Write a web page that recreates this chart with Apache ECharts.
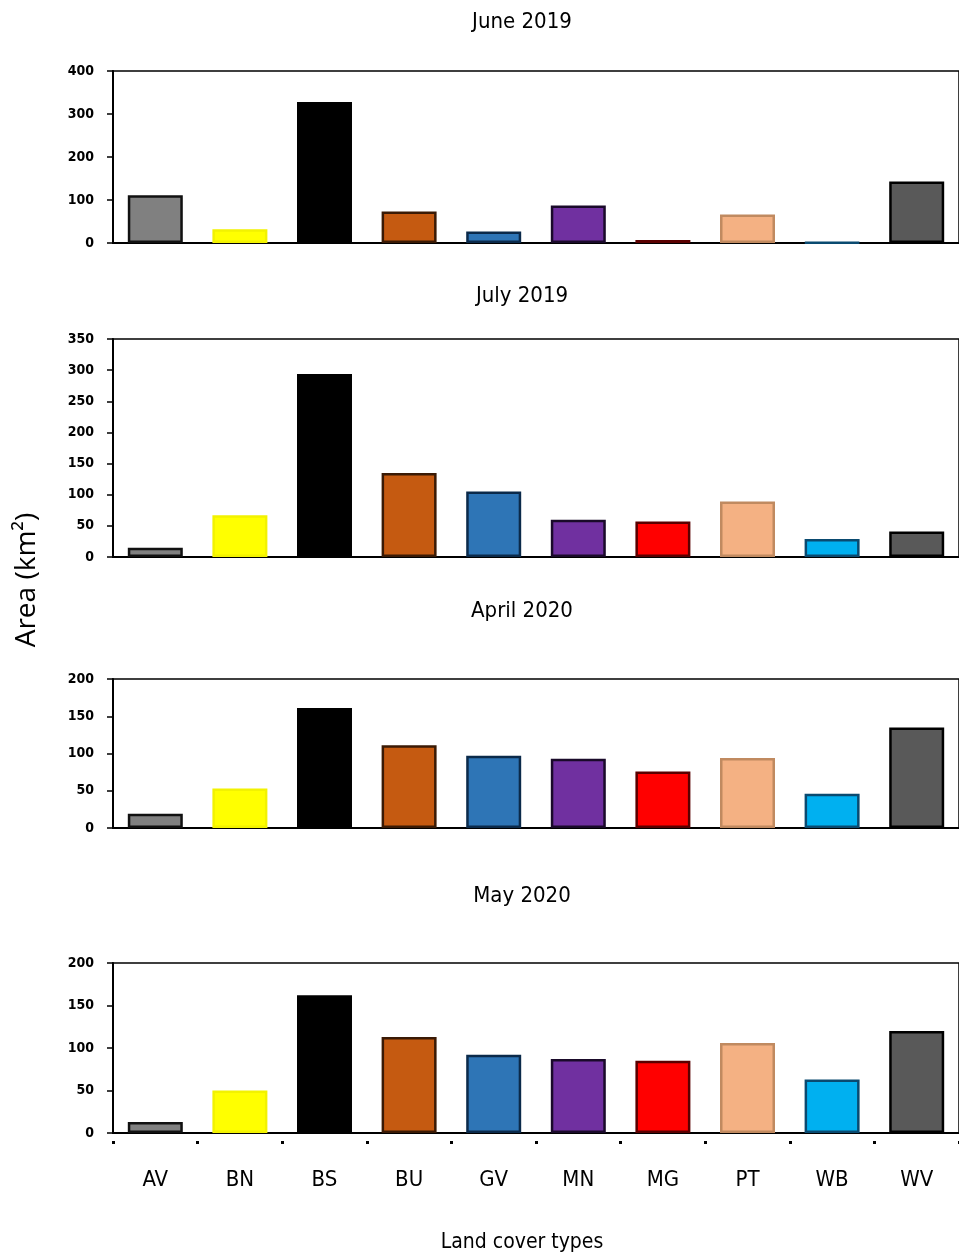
<!DOCTYPE html>
<html>
<head>
<meta charset="utf-8">
<script src="https://cdn.jsdelivr.net/npm/echarts@6/dist/echarts.min.js"></script>
<style>
html,body{margin:0;padding:0;background:#fff;}
#chart{width:959px;height:1260px;}
</style>
</head>
<body>
<div id="chart"></div>
<script>
const categories = ['AV','BN','BS','BU','GV','MN','MG','PT','WB','WV'];
const june2019 = [111, 32, 328, 73, 27, 87, 7, 66, 1, 143];
const july2019 = [15, 67, 294, 135, 105, 60, 57, 89, 29, 41];
const april2020 = [19, 53, 161, 111, 97, 93, 76, 94, 46, 135];
const may2020 = [13, 50, 162, 113, 92, 87, 85, 106, 63, 120];
const panelTitles = ['June 2019', 'July 2019', 'April 2020', 'May 2020'];
const yMax = [400, 350, 200, 200];
const yStep = [100, 50, 50, 50];
const fillColors = ['#808080','#FFFF00','#000000','#C55A11','#2E75B6','#7030A0','#FF0000','#F4B183','#00B0F0','#595959'];
const edgeColors = ['#111111','#F2F200','#000000','#3a1a05','#0b2a4a','#1a0a2a','#5a0000','#c08a60','#0a4a70','#000000'];
const xTitle = 'Land cover types';
const yTitle = 'Area (km²)';

const panels = [june2019, july2019, april2020, may2020];
const layout = [
  {top: 71, height: 172, titleY: 22},
  {top: 339, height: 218, titleY: 296},
  {top: 679, height: 149, titleY: 611},
  {top: 963, height: 170, titleY: 896}
];
const FONT = "'DejaVu Sans Condensed','Liberation Sans Narrow',sans-serif";

const chart = echarts.init(document.getElementById('chart'), null, {renderer: 'canvas'});

const grid = [], xAxis = [], yAxis = [], series = [], graphic = [];
panels.forEach((vals, i) => {
  const L = layout[i];
  const last = i === panels.length - 1;
  grid.push({left: 113, top: L.top, width: 849, height: L.height, show: true,
    borderColor: '#000', borderWidth: 1.5, backgroundColor: 'transparent'});
  xAxis.push({type: 'category', gridIndex: i, data: categories,
    axisLine: {show: true, lineStyle: {color: '#000', width: 2}},
    axisTick: {show: false},
    axisLabel: {show: last, margin: 36, color: '#000', fontSize: 22, fontFamily: FONT},
    splitLine: {show: false}});
  yAxis.push({type: 'value', gridIndex: i, min: 0, max: yMax[i], interval: yStep[i],
    axisLine: {show: true, lineStyle: {color: '#000', width: 2}},
    axisTick: {show: true, length: 6, lineStyle: {color: '#000', width: 1.5}},
    axisLabel: {color: '#000', fontSize: 14, fontWeight: 'bold', fontFamily: "'DejaVu Sans Condensed','DejaVu Sans',sans-serif", margin: 19},
    splitLine: {show: false}});
  series.push({type: 'bar', xAxisIndex: i, yAxisIndex: i, barCategoryGap: '35%',
    data: vals.map((v, k) => ({value: v, itemStyle: {color: fillColors[k], borderColor: edgeColors[k], borderWidth: 2.5}})),
    animation: false});
  graphic.push({type: 'text', x: 522, y: L.titleY,
    style: {text: panelTitles[i], fill: '#000', font: "22px " + FONT, textAlign: 'center', textVerticalAlign: 'middle'}});
});
// detached tick dots under the bottom panel's category axis
xAxis.push({type: 'category', gridIndex: 3, data: categories, position: 'bottom', offset: 8,
  axisLine: {show: false},
  axisTick: {show: true, length: 3, lineStyle: {color: '#000', width: 3}},
  axisLabel: {show: false}, splitLine: {show: false}});

graphic.push({type: 'text', x: 522, y: 1243,
  style: {text: xTitle, fill: '#000', font: "21px " + FONT, textAlign: 'center', textVerticalAlign: 'middle'}});
graphic.push({type: 'text', x: 27, y: 580, rotation: Math.PI / 2,
  style: {text: yTitle, fill: '#000', font: "28px 'Open Sans','Noto Sans',sans-serif", textAlign: 'center', textVerticalAlign: 'middle'}});

chart.setOption({animation: false, backgroundColor: '#fff', grid, xAxis, yAxis, series, graphic});
</script>
</body>
</html>
